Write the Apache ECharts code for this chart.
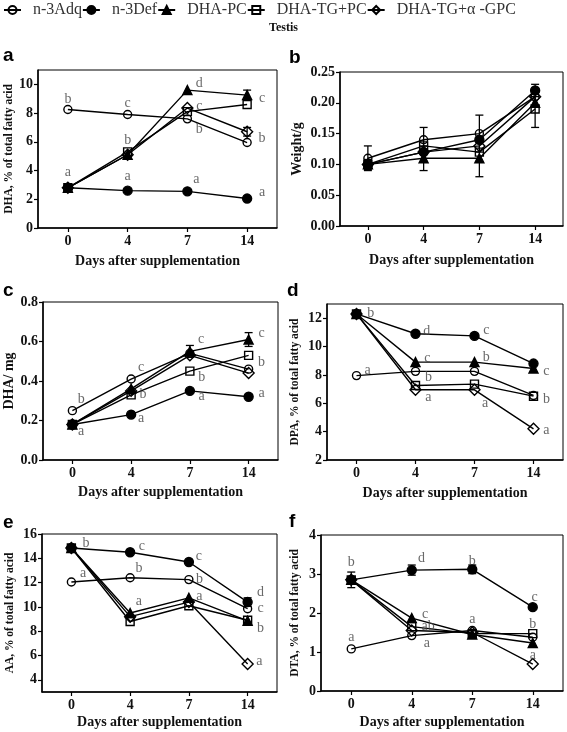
<!DOCTYPE html>
<html><head><meta charset="utf-8">
<script src="https://cdn.jsdelivr.net/npm/echarts@6/dist/echarts.min.js"></script>
<style>html,body{margin:0;padding:0;background:#fff}#c{width:567px;height:732px}</style>
</head><body><div id="c"></div>
<script>
// ---------- data ----------
const days = ['0', '4', '7', '14'];
const groupNames = ['n-3Adq', 'n-3Def', 'DHA-PC', 'DHA-TG+PC', 'DHA-TG+α -GPC'];

// a: DHA, % of total fatty acid
const dhaPctAdq  = [8.25, 7.9, 7.6, 5.95];
const dhaPctDef  = [2.8, 2.6, 2.55, 2.05];
const dhaPctPC   = [2.8, 5.1, 9.6, 9.25];
const dhaPctTGPC = [2.8, 5.3, 8.1, 8.6];
const dhaPctGPC  = [2.8, 5.1, 8.35, 6.7];
const dhaPctTicks = [0, 2, 4, 6, 8, 10];
const dhaPctErr = [[3, 9.25, 0.35], [3, 6.7, 0.3]];
const dhaPctLetters = [[0, 8.95, 'b'], [0, 3.85, 'a'], [1, 8.65, 'c'], [1, 6.1, 'b'], [1, 3.6, 'a'],
  [2.2, 10.1, 'd'], [2.2, 8.5, 'c'], [2.2, 6.85, 'b'], [2.15, 3.4, 'a'],
  [3.25, 9.05, 'c'], [3.25, 6.25, 'b'], [3.25, 2.5, 'a']];

// b: Weight/g
const weightAdq  = [0.11, 0.14, 0.15, 0.21];
const weightDef  = [0.10, 0.12, 0.14, 0.22];
const weightPC   = [0.10, 0.11, 0.11, 0.20];
const weightTGPC = [0.10, 0.13, 0.12, 0.19];
const weightGPC  = [0.10, 0.12, 0.13, 0.21];
const weightTicks = [0, 0.05, 0.10, 0.15, 0.20, 0.25];
const weightErr = [[0, 0.11, 0.02], [0, 0.10, 0.008], [1, 0.14, 0.02], [1, 0.11, 0.02],
  [2, 0.15, 0.03], [2, 0.11, 0.03], [3, 0.22, 0.01], [3, 0.19, 0.03]];
const weightLetters = [];

// c: DHA / mg
const dhaMgAdq  = [0.25, 0.41, 0.54, 0.46];
const dhaMgDef  = [0.18, 0.23, 0.35, 0.32];
const dhaMgPC   = [0.18, 0.36, 0.55, 0.61];
const dhaMgTGPC = [0.18, 0.33, 0.45, 0.53];
const dhaMgGPC  = [0.18, 0.35, 0.53, 0.44];
const dhaMgTicks = [0, 0.2, 0.4, 0.6, 0.8];
const dhaMgErr = [[3, 0.61, 0.035], [2, 0.55, 0.03]];
const dhaMgLetters = [[0.15, 0.307, 'b'], [0.15, 0.147, 'a'], [1.17, 0.47, 'c'], [1.2, 0.334, 'b'], [1.17, 0.21, 'a'],
  [2.19, 0.612, 'c'], [2.2, 0.42, 'b'], [2.2, 0.32, 'a'],
  [3.22, 0.642, 'c'], [3.22, 0.495, 'b'], [3.22, 0.337, 'a']];

// d: DPA, % of total fatty acid
const dpaAdq  = [7.95, 8.25, 8.25, 6.55];
const dpaDef  = [12.3, 10.9, 10.75, 8.8];
const dpaPC   = [12.3, 8.9, 8.9, 8.45];
const dpaTGPC = [12.3, 7.25, 7.35, 6.5];
const dpaGPC  = [12.3, 6.95, 6.95, 4.2];
const dpaTicks = [2, 4, 6, 8, 10, 12];
const dpaErr = [];
const dpaLetters = [[0.24, 12.33, 'b'], [0.19, 8.32, 'a'], [1.19, 11.1, 'd'], [1.2, 9.2, 'c'], [1.22, 7.8, 'b'], [1.22, 6.45, 'a'],
  [2.2, 11.16, 'c'], [2.2, 9.25, 'b'], [2.18, 5.99, 'a'],
  [3.22, 8.27, 'c'], [3.22, 6.29, 'b'], [3.22, 4.12, 'a']];

// e: AA, % of total fatty acid
const aaAdq  = [12.05, 12.4, 12.25, 9.85];
const aaDef  = [14.85, 14.5, 13.7, 10.4];
const aaPC   = [14.85, 9.5, 10.75, 8.85];
const aaTGPC = [14.85, 8.8, 10.1, 8.9];
const aaGPC  = [14.85, 9.2, 10.4, 5.3];
const aaTicks = [4, 6, 8, 10, 12, 14, 16];
const aaErr = [[3, 10.4, 0.35]];
const aaLetters = [[0.25, 15.25, 'b'], [0.2, 12.73, 'a'], [1.2, 14.97, 'c'], [1.15, 13.15, 'b'], [1.15, 10.5, 'a'],
  [2.17, 14.13, 'c'], [2.18, 12.3, 'b'], [2.18, 10.9, 'a'],
  [3.22, 11.2, 'd'], [3.22, 9.85, 'c'], [3.22, 8.25, 'b'], [3.2, 5.5, 'a']];

// f: DTA, % of total fatty acid
const dtaAdq  = [1.08, 1.42, 1.55, 1.38];
const dtaDef  = [2.85, 3.1, 3.12, 2.15];
const dtaPC   = [2.85, 1.87, 1.45, 1.23];
const dtaTGPC = [2.85, 1.65, 1.47, 1.47];
const dtaGPC  = [2.85, 1.55, 1.5, 0.69];
const dtaTicks = [0, 1, 2, 3, 4];
const dtaErr = [[0, 2.85, 0.2], [1, 3.1, 0.13], [2, 3.12, 0.11]];
const dtaLetters = [[0, 3.3, 'b'], [0, 1.37, 'a'], [1.16, 3.4, 'd'], [1.22, 1.96, 'c'], [1.27, 1.66, 'ab'], [1.25, 1.21, 'a'],
  [2, 3.33, 'b'], [2, 1.83, 'a'], [3.03, 2.39, 'c'], [3.0, 1.72, 'b'], [3.0, 0.92, 'a']];

// ---------- layout / style ----------
const SERIF = '"Liberation Serif", "Times New Roman", serif';
const panels = [
  {tag: 'a', values: [dhaPctAdq, dhaPctDef, dhaPctPC, dhaPctTGPC, dhaPctGPC], ticks: dhaPctTicks, min: 0, max: 11, dec: 0,
   err: dhaPctErr, letters: dhaPctLetters, yName: 'DHA, % of total fatty acid', yNameSize: 11.5, yGap: 23,
   grid: {left: 38, top: 70, width: 239, height: 158}, xGap: 26, tagPos: [3, 46]},
  {tag: 'b', values: [weightAdq, weightDef, weightPC, weightTGPC, weightGPC], ticks: weightTicks, min: 0, max: 0.25, dec: 2,
   err: weightErr, letters: weightLetters, yName: 'Weight/g', yNameSize: 14, yGap: 36,
   grid: {left: 340, top: 72, width: 223, height: 154}, xGap: 27, tagPos: [289, 48]},
  {tag: 'c', values: [dhaMgAdq, dhaMgDef, dhaMgPC, dhaMgTGPC, dhaMgGPC], ticks: dhaMgTicks, min: 0, max: 0.8, dec: 1,
   err: dhaMgErr, letters: dhaMgLetters, yName: 'DHA/ mg', yNameSize: 14, yGap: 27,
   grid: {left: 43, top: 302, width: 235, height: 158}, xGap: 25, tagPos: [3, 281]},
  {tag: 'd', values: [dpaAdq, dpaDef, dpaPC, dpaTGPC, dpaGPC], ticks: dpaTicks, min: 2, max: 13, dec: 0,
   err: dpaErr, letters: dpaLetters, yName: 'DPA, % of total fatty acid', yNameSize: 11.5, yGap: 26,
   grid: {left: 327, top: 304, width: 236, height: 156}, xGap: 26, tagPos: [287, 281]},
  {tag: 'e', values: [aaAdq, aaDef, aaPC, aaTGPC, aaGPC], ticks: aaTicks, min: 3, max: 16, dec: 0,
   err: aaErr, letters: aaLetters, yName: 'AA, % of total fatty acid', yNameSize: 11.5, yGap: 26,
   grid: {left: 42, top: 534, width: 235, height: 158}, xGap: 23, tagPos: [3, 513]},
  {tag: 'f', values: [dtaAdq, dtaDef, dtaPC, dtaTGPC, dtaGPC], ticks: dtaTicks, min: 0, max: 4, dec: 0,
   err: dtaErr, letters: dtaLetters, yName: 'DTA, % of total fatty acid', yNameSize: 11.5, yGap: 20,
   grid: {left: 321, top: 535, width: 242, height: 156}, xGap: 24, tagPos: [289, 512]}
];

const markers = [
  {symbol: 'circle', size: 8, fill: 'transparent'},
  {symbol: 'circle', size: 9, fill: '#000'},
  {symbol: 'triangle', size: 9, fill: '#000'},
  {symbol: 'rect', size: 8, fill: 'transparent'},
  {symbol: 'diamond', size: 11, fill: 'transparent'}
];

const grids = [], xAxes = [], yAxes = [], series = [], graphics = [];
const xIdx = [0, 1, 2, 3];

panels.forEach((p, k) => {
  grids.push(Object.assign({show: true, borderColor: '#000', borderWidth: 1, backgroundColor: 'transparent'}, p.grid));
  xAxes.push({
    type: 'value', gridIndex: k, min: -0.5, max: 3.5,
    axisLine: {show: true, onZero: false, lineStyle: {color: '#000', width: 1.5}},
    axisTick: {show: true, customValues: xIdx, length: 4, lineStyle: {color: '#000', width: 1.2}},
    axisLabel: {customValues: xIdx, formatter: v => days[Math.round(v)], margin: 6,
      fontFamily: SERIF, fontWeight: 'bold', fontSize: 14, color: '#111'},
    splitLine: {show: false},
    name: 'Days after supplementation', nameLocation: 'middle', nameGap: p.xGap,
    nameTextStyle: {fontFamily: SERIF, fontWeight: 'bold', fontSize: 14, color: '#111'}
  });
  yAxes.push({
    type: 'value', gridIndex: k, min: p.min, max: p.max,
    axisLine: {show: true, onZero: false, lineStyle: {color: '#000', width: 1.5}},
    axisTick: {show: true, customValues: p.ticks, length: 4, lineStyle: {color: '#000', width: 1.2}},
    axisLabel: {customValues: p.ticks, formatter: v => Number(v).toFixed(p.dec), margin: 5,
      fontFamily: SERIF, fontWeight: 'bold', fontSize: 14, color: '#111'},
    splitLine: {show: false},
    name: p.yName, nameLocation: 'middle', nameGap: p.yGap,
    nameTextStyle: {fontFamily: SERIF, fontWeight: 'bold', fontSize: p.yNameSize, color: '#111'}
  });
  // error bars
  series.push({
    type: 'custom', xAxisIndex: k, yAxisIndex: k, z: 1, silent: true,
    data: p.err,
    renderItem: (params, api) => {
      const x = api.value(0), y = api.value(1), e = api.value(2);
      const t = api.coord([x, y + e]), b = api.coord([x, y - e]);
      const w = 4, st = {stroke: '#000', lineWidth: 1.3};
      return {type: 'group', children: [
        {type: 'line', shape: {x1: t[0], y1: t[1], x2: b[0], y2: b[1]}, style: st},
        {type: 'line', shape: {x1: t[0] - w, y1: t[1], x2: t[0] + w, y2: t[1]}, style: st},
        {type: 'line', shape: {x1: b[0] - w, y1: b[1], x2: b[0] + w, y2: b[1]}, style: st}
      ]};
    }
  });
  // group lines
  p.values.forEach((vals, g) => {
    const m = markers[g];
    series.push({
      type: 'line', name: groupNames[g], xAxisIndex: k, yAxisIndex: k, z: 3,
      data: vals.map((v, i) => [i, v]),
      symbol: m.symbol, symbolSize: m.size, showAllSymbol: true,
      lineStyle: {color: '#000', width: 1.4},
      itemStyle: {color: m.fill, borderColor: '#000', borderWidth: 1.4},
      emphasis: {disabled: true}, animation: false
    });
  });
  // significance letters
  series.push({
    type: 'scatter', xAxisIndex: k, yAxisIndex: k, z: 5, silent: true,
    symbolSize: 1, itemStyle: {color: 'transparent'},
    data: p.letters,
    label: {show: true, position: 'inside', formatter: d => d.value[2],
      fontFamily: SERIF, fontSize: 14, color: '#444'}
  });
  graphics.push({type: 'text', left: p.tagPos[0], top: p.tagPos[1],
    style: {text: p.tag, font: 'bold 19px "Liberation Sans", Arial, sans-serif', fill: '#000'}});
});

graphics.push({type: 'text', left: 'center', top: 22,
  style: {text: 'Testis', font: 'bold 12px ' + SERIF, fill: '#111'}});

const chart = echarts.init(document.getElementById('c'), null, {renderer: 'canvas'});
chart.setOption({
  animation: false,
  backgroundColor: '#fff',
  legend: {
    data: groupNames, left: 3, top: 2, padding: 0, itemWidth: 17, itemHeight: 10, itemGap: 0,
    textStyle: {fontFamily: SERIF, fontSize: 16, color: '#333', padding: [0, 0, 0, 7]}
  },
  grid: grids, xAxis: xAxes, yAxis: yAxes, series: series, graphic: graphics
});
</script></body></html>
